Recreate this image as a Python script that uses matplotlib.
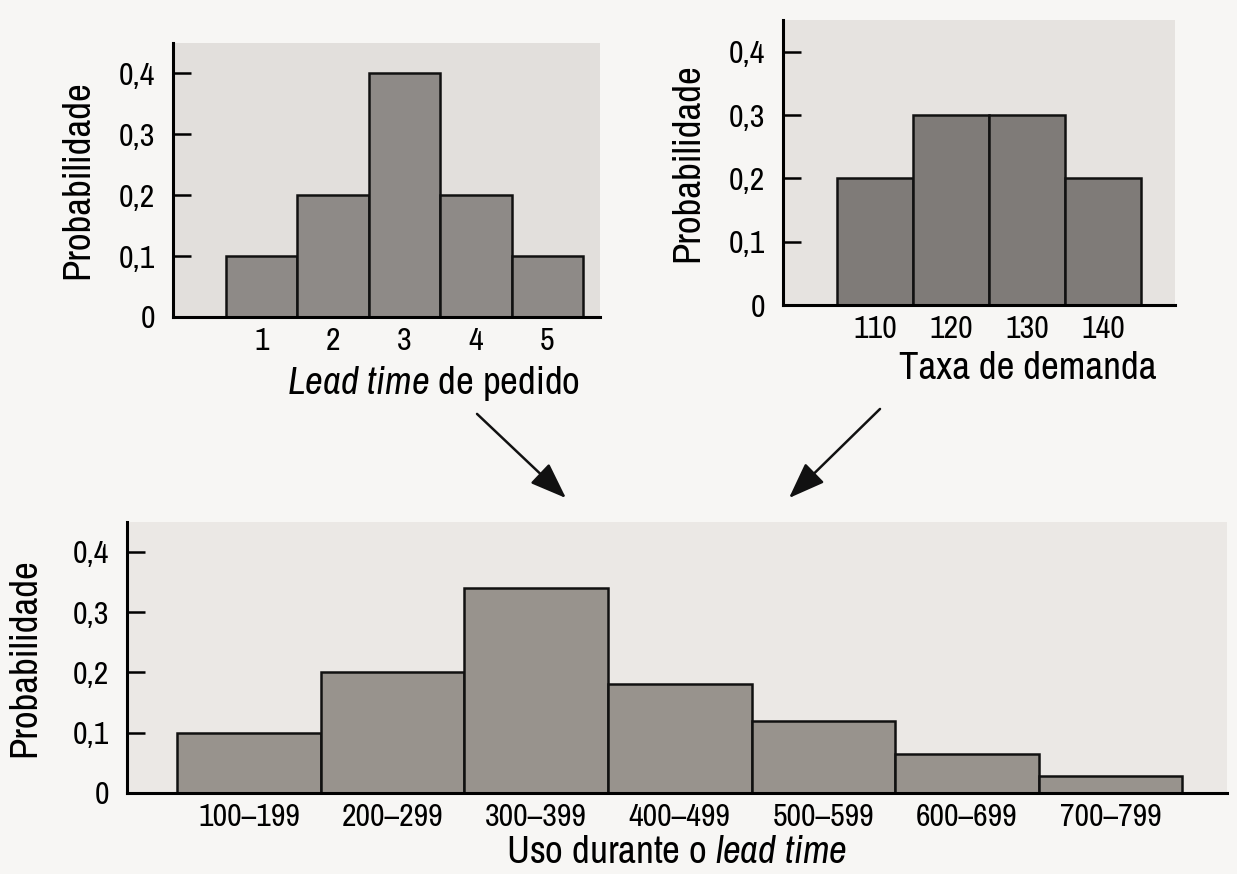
import matplotlib
matplotlib.use("Agg")
from matplotlib import pyplot as plt
from matplotlib.patches import FancyArrowPatch

plt.rcParams['font.family'] = ['Archivo Narrow', 'Liberation Sans', 'DejaVu Sans']
plt.rcParams['mathtext.fontset'] = 'custom'
plt.rcParams['mathtext.rm'] = 'Archivo Narrow'
plt.rcParams['mathtext.it'] = 'Archivo Narrow:italic'

# lead time de pedido
lead_times = [1, 2, 3, 4, 5]
lead_probs = [0.1, 0.2, 0.4, 0.2, 0.1]

# taxa de demanda
demand_rates = [110, 120, 130, 140]
demand_probs = [0.2, 0.3, 0.3, 0.2]

# uso durante o lead time
usage_labels = ['100–199', '200–299', '300–399', '400–499', '500–599', '600–699', '700–799']
usage_probs = [0.10, 0.20, 0.34, 0.18, 0.12, 0.065, 0.028]

y_ticks = [0, 0.1, 0.2, 0.3, 0.4]
y_ticklabels = ['0', '0,1', '0,2', '0,3', '0,4']

TICK_SIZE = 23
LABEL_SIZE = 28


def style_axes(ax, face):
    ax.set_facecolor(face)
    for s in ['top', 'right']:
        ax.spines[s].set_visible(False)
    ax.spines['left'].set_linewidth(2.2)
    ax.spines['bottom'].set_linewidth(2.2)
    ax.set_yticks(y_ticks)
    ax.set_yticklabels(y_ticklabels)
    ax.tick_params(axis='y', direction='in', length=13, width=1.8, pad=13, labelsize=TICK_SIZE)
    ax.tick_params(axis='x', length=0, pad=7, labelsize=TICK_SIZE)
    ax.set_ylim(0, 0.45)


fig = plt.figure(figsize=(12.37, 8.74), dpi=100)
fig.patch.set_facecolor('#f7f6f4')

# grafico superior esquerdo
ax1 = fig.add_axes([0.1399, 0.6373, 0.3452, 0.3135])
ax1.bar(lead_times, lead_probs, width=1.0, color='#8e8a87', edgecolor='#111111', linewidth=1.8)
style_axes(ax1, '#e2dfdc')
ax1.set_xlim(-0.24, 5.74)
ax1.set_xticks(lead_times)
ax1.set_ylabel('Probabilidade', fontsize=LABEL_SIZE)
ax1.yaxis.set_label_coords(-0.183, 0.5)
ax1.set_xlabel(r'$\mathit{Lead\ time}$ de pedido', fontsize=LABEL_SIZE)
ax1.xaxis.set_label_coords(0.611, -0.17)

# grafico superior direito
ax2 = fig.add_axes([0.633, 0.651, 0.317, 0.326])
ax2.bar(demand_rates, demand_probs, width=10, color='#7f7b78', edgecolor='#111111', linewidth=1.8)
style_axes(ax2, '#e6e3e0')
ax2.set_xlim(97.9, 149.5)
ax2.set_xticks(demand_rates)
ax2.set_ylabel('Probabilidade', fontsize=LABEL_SIZE)
ax2.yaxis.set_label_coords(-0.199, 0.5)
ax2.set_xlabel('Taxa de demanda', fontsize=LABEL_SIZE)
ax2.xaxis.set_label_coords(0.625, -0.16)

# grafico inferior
ax3 = fig.add_axes([0.1027, 0.0927, 0.889, 0.3103])
pos = list(range(len(usage_labels)))
ax3.bar(pos, usage_probs, width=1.0, color='#98938d', edgecolor='#111111', linewidth=1.8)
style_axes(ax3, '#ebe8e5')
ax3.set_xlim(-0.85, 6.81)
ax3.set_xticks(pos)
ax3.set_xticklabels(usage_labels)
ax3.set_ylabel('Probabilidade', fontsize=LABEL_SIZE)
ax3.yaxis.set_label_coords(-0.077, 0.5)
ax3.set_xlabel(r'Uso durante o $\mathit{lead\ time}$', fontsize=LABEL_SIZE, labelpad=3)

# setas
arrow = dict(arrowstyle='-|>,head_length=0.75,head_width=0.28', color='#111111', lw=1.8, mutation_scale=30)
fig.add_artist(FancyArrowPatch((475, 462), (568, 374), transform=None, **arrow))
fig.add_artist(FancyArrowPatch((882, 467), (787, 374), transform=None, **arrow))

plt.savefig("out.png", dpi=100)
plt.close()
